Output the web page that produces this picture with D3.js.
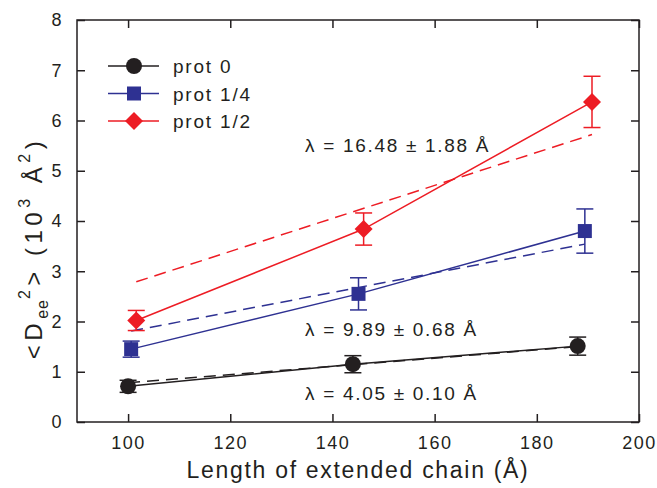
<!DOCTYPE html>
<html lang="en">
<head>
<meta charset="UTF-8">
<title>Dee2 vs chain length</title>
<style>
  body { margin: 0; background: #fff; }
  svg text { font-family: "Liberation Sans", Arial, sans-serif; fill: #231f20; }
</style>
</head>
<body>
<div id="chart"></div>
<script src="https://d3js.org/d3.v7.min.js"></script>
<script>
// data
const seriesNames = ["prot 0", "prot 1/4", "prot 1/2"];
const seriesColors = ["#231f20", "#2e3192", "#ed1c24"];
const seriesShapes = ["circle", "square", "diamond"];

const xProt0 = [100.0, 144.0, 188.0];
const yProt0 = [0.71, 1.15, 1.51];
const eProt0 = [0.12, 0.17, 0.18];

const xProt14 = [100.6, 145.1, 189.4];
const yProt14 = [1.45, 2.55, 3.80];
const eProt14 = [0.16, 0.32, 0.44];

const xProt12 = [101.6, 146.1, 190.8];
const yProt12 = [2.02, 3.84, 6.37];
const eProt12 = [0.20, 0.32, 0.51];

// dashed fit lines: [y at first x, y at last x]
const fitProt0 = [0.78, 1.50];
const fitProt14 = [1.81, 3.54];
const fitProt12 = [2.79, 5.72];

const lambdaLabels = ["λ = 4.05 ± 0.10 Å", "λ = 9.89 ± 0.68 Å", "λ = 16.48 ± 1.88 Å"];
const lambdaY = [0.44, 1.72, 5.38];

const xTicks = [100, 120, 140, 160, 180, 200];
const yTicks = [0, 1, 2, 3, 4, 5, 6, 7, 8];

const width = 657, height = 488;
const margin = { top: 20, right: 18, bottom: 66, left: 77 };

const svg = d3.select("#chart").append("svg")
    .attr("width", width)
    .attr("height", height);

const x = d3.scaleLinear().domain([90, 200]).range([margin.left, width - margin.right]);
const y = d3.scaleLinear().domain([0, 8]).range([height - margin.bottom, margin.top]);

const series = [
    { xs: xProt0, ys: yProt0, es: eProt0, fit: fitProt0 },
    { xs: xProt14, ys: yProt14, es: eProt14, fit: fitProt14 },
    { xs: xProt12, ys: yProt12, es: eProt12, fit: fitProt12 }
];

// axes with inward ticks on all four sides
const tickLen = 8;
const axisColor = "#231f20";
function styleAxis(g) {
    g.select(".domain").remove();
    g.selectAll("line").attr("stroke", axisColor).attr("stroke-width", 1.5);
    g.selectAll("text").style("font-size", "18px").style("letter-spacing", "1.5px").attr("fill", axisColor);
}

svg.append("g")
    .attr("transform", `translate(0,${y(0)})`)
    .call(d3.axisBottom(x).tickValues(xTicks).tickSizeInner(-tickLen).tickSizeOuter(0).tickPadding(14))
    .call(styleAxis);

svg.append("g")
    .attr("transform", `translate(0,${y(8)})`)
    .call(d3.axisTop(x).tickValues(xTicks).tickSizeInner(-tickLen).tickSizeOuter(0).tickFormat(""))
    .call(styleAxis);

svg.append("g")
    .attr("transform", `translate(${x(90)},0)`)
    .call(d3.axisLeft(y).tickValues(yTicks).tickSizeInner(-tickLen).tickSizeOuter(0).tickPadding(14))
    .call(styleAxis);

svg.append("g")
    .attr("transform", `translate(${x(200)},0)`)
    .call(d3.axisRight(y).tickValues(yTicks).tickSizeInner(-tickLen).tickSizeOuter(0).tickFormat(""))
    .call(styleAxis);

svg.append("rect")
    .attr("x", x(90)).attr("y", y(8))
    .attr("width", x(200) - x(90)).attr("height", y(0) - y(8))
    .attr("fill", "none").attr("stroke", axisColor).attr("stroke-width", 1.5);

// axis titles
svg.append("text")
    .attr("x", (x(90) + x(200)) / 2).attr("y", 478)
    .attr("text-anchor", "middle")
    .style("font-size", "23px")
    .style("letter-spacing", "1.7px")
    .text("Length of extended chain (Å)");

const yTitle = svg.append("text")
    .attr("transform", "translate(42,248) rotate(-90)")
    .attr("text-anchor", "middle")
    .style("font-size", "24px")
    .style("letter-spacing", "4.5px");
yTitle.append("tspan").text("<D");
yTitle.append("tspan").attr("dy", 6).style("font-size", "16px").style("letter-spacing", "1px").text("ee");
yTitle.append("tspan").attr("dy", -18).style("font-size", "16px").text("2");
yTitle.append("tspan").attr("dy", 12).text("> (10");
yTitle.append("tspan").attr("dy", -12).style("font-size", "16px").text("3");
yTitle.append("tspan").attr("dy", 12).text(" Å");
yTitle.append("tspan").attr("dy", -12).style("font-size", "16px").text("2");
yTitle.append("tspan").attr("dy", 12).text(")");

// markers
function drawMarker(g, shape, cx, cy, color) {
    if (shape === "circle") {
        g.append("circle").attr("cx", cx).attr("cy", cy).attr("r", 8).attr("fill", color);
    } else if (shape === "square") {
        g.append("rect").attr("x", cx - 7).attr("y", cy - 7).attr("width", 14).attr("height", 14).attr("fill", color);
    } else {
        g.append("path")
            .attr("d", `M${cx},${cy - 9}L${cx + 9},${cy}L${cx},${cy + 9}L${cx - 9},${cy}Z`)
            .attr("fill", color);
    }
}

const line = d3.line().x(d => x(d[0])).y(d => y(d[1]));

series.forEach((s, i) => {
    const color = seriesColors[i];
    const g = svg.append("g");
    const pts = s.xs.map((v, j) => [v, s.ys[j]]);

    // dashed fit
    g.append("path")
        .attr("d", line([[s.xs[0], s.fit[0]], [s.xs[s.xs.length - 1], s.fit[1]]]))
        .attr("fill", "none").attr("stroke", color).attr("stroke-width", 1.5)
        .attr("stroke-dasharray", "12,7");

    // solid connecting line
    g.append("path")
        .attr("d", line(pts))
        .attr("fill", "none").attr("stroke", color).attr("stroke-width", 1.5);

    // error bars
    pts.forEach((p, j) => {
        const cx = x(p[0]);
        const top = y(p[1] + s.es[j]);
        const bot = y(p[1] - s.es[j]);
        g.append("line").attr("x1", cx).attr("x2", cx).attr("y1", top).attr("y2", bot)
            .attr("stroke", color).attr("stroke-width", 1.5);
        [top, bot].forEach(yy => {
            g.append("line").attr("x1", cx - 8.5).attr("x2", cx + 8.5).attr("y1", yy).attr("y2", yy)
                .attr("stroke", color).attr("stroke-width", 1.5);
        });
        drawMarker(g, seriesShapes[i], cx, y(p[1]), color);
    });
});

// lambda annotations
lambdaLabels.forEach((t, i) => {
    svg.append("text")
        .attr("x", 305).attr("y", y(lambdaY[i]))
        .style("font-size", "19px")
        .style("letter-spacing", "1.7px")
        .text(t);
});

// legend
const legend = svg.append("g");
seriesNames.forEach((name, i) => {
    const ly = 66 + i * 27.5;
    legend.append("line").attr("x1", 108).attr("x2", 159).attr("y1", ly).attr("y2", ly)
        .attr("stroke", seriesColors[i]).attr("stroke-width", 1.5);
    drawMarker(legend, seriesShapes[i], 134, ly, seriesColors[i]);
    legend.append("text").attr("x", 173).attr("y", ly + 7)
        .style("font-size", "19px")
        .style("letter-spacing", "1.8px")
        .text(name);
});
</script>
</body>
</html>
